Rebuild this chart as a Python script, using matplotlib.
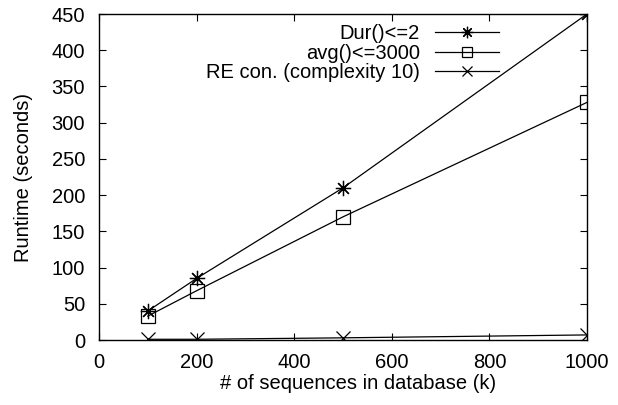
import matplotlib.pyplot as plt

plt.rcParams['font.family'] = ['Liberation Sans', 'DejaVu Sans']

# data
sizes = [100, 200, 500, 1000]
dur_runtime = [40, 85, 210, 450]
avg_runtime = [33, 68, 170, 328]
re_runtime = [1, 1, 3, 7]

x_ticks = [0, 200, 400, 600, 800, 1000]
y_ticks = [0, 50, 100, 150, 200, 250, 300, 350, 400, 450]

fig = plt.figure(figsize=(6.18, 4.05), dpi=100)
ax = fig.add_axes([99 / 618, 65 / 405, 488 / 618, 326 / 405])

# gnuplot-like asterisk (+ and x combined)
ax.plot(sizes, dur_runtime, color='black', linewidth=0.9, marker=(8, 2, 0),
        markersize=11, markeredgewidth=0.9, label='Dur()<=2')
ax.plot(sizes, avg_runtime, color='black', linewidth=0.9, marker='s',
        markersize=10, markerfacecolor='none', markeredgewidth=0.9,
        label='avg()<=3000')
ax.plot(sizes, re_runtime, color='black', linewidth=0.9, marker='x',
        markersize=10, markeredgewidth=0.9, label='RE con. (complexity 10)')

ax.set_xlim(0, 1000)
ax.set_ylim(0, 450)
ax.set_xticks(x_ticks)
ax.set_yticks(y_ticks)
ax.tick_params(direction='in', top=True, right=True, labelsize=14.5,
               length=5, width=0.8)
ax.tick_params(axis='y', pad=10)
ax.tick_params(axis='x', pad=9)
for s in ax.spines.values():
    s.set_linewidth(1.0)

ax.set_xlabel('# of sequences in database (k)', fontsize=14.5, labelpad=6)
ax.xaxis.set_label_coords(0.53, -0.105)
ax.set_ylabel('Runtime (seconds)', fontsize=14.5, labelpad=13.5)

ax.legend(loc='upper right', bbox_to_anchor=(0.845, 1.005), frameon=False,
          markerfirst=False, fontsize=14.5, handlelength=3.2,
          handletextpad=0.75, labelspacing=0.02, borderaxespad=0.2,
          markerscale=0.75)

fig.savefig('out.png', dpi=100)
